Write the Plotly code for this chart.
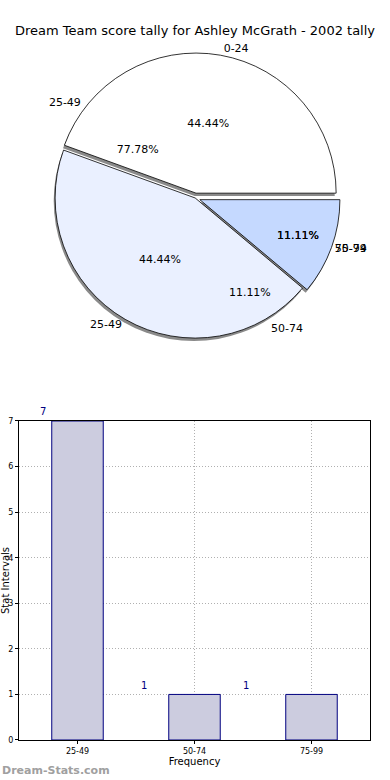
import plotly.graph_objects as go

title = "Dream Team score tally for Ashley McGrath - 2002 tally"
# pie layer drawn on top (fills)
pie_top_labels = ["0-24", "25-49", "50-74"]
pie_top_values = [4, 4, 1]
pie_top_colors = ["#ffffff", "#eaf0ff", "#c5d9ff"]
# pie layer underneath (only its texts show)
pie_under_labels = ["25-49", "50-74", "75-99"]
pie_under_values = [7, 1, 1]

bar_categories = ["25-49", "50-74", "75-99"]
bar_values = [7, 1, 1]
bar_label_shift = [-35, -51, -66]

FONT = "DejaVu Sans"
pull_top = [0.035, 0, 0.035]
pull_even = [0.035, 0.035, 0.035]
pie_dom_y = [0.5365, 0.9284]
pie_dom_x = [0.004, 1.0]
transp = ["rgba(0,0,0,0)"] * 3


def rev(a):
    # matplotlib draws counterclockwise from 3 o'clock; plotly clockwise with reversed order is equivalent
    return list(a)[::-1]


common = dict(sort=False, direction="clockwise", rotation=90, hoverinfo="skip", showlegend=False)

fig = go.Figure()

# shadow
fig.add_trace(go.Pie(
    labels=rev(pie_top_labels), values=rev(pie_top_values), pull=rev(pull_top), textinfo="none",
    marker=dict(colors=["#8a8a8a"] * 3, line=dict(width=0)),
    domain=dict(x=[0.0, 0.996], y=[pie_dom_y[0] - 0.004, pie_dom_y[1] - 0.004]), **common,
))
# top fills
fig.add_trace(go.Pie(
    labels=rev(pie_top_labels), values=rev(pie_top_values), pull=rev(pull_top), textinfo="none",
    marker=dict(colors=rev(pie_top_colors), line=dict(color="black", width=0.8)),
    domain=dict(x=pie_dom_x, y=pie_dom_y), **common,
))
# under-pie texts
fig.add_trace(go.Pie(
    labels=rev(pie_under_labels), values=rev(pie_under_values), pull=pull_even,
    texttemplate="%{percent:.2%}", textposition="inside", insidetextorientation="horizontal",
    textfont=dict(family=FONT, size=11, color="black"),
    marker=dict(colors=transp, line=dict(width=0)),
    domain=dict(x=pie_dom_x, y=pie_dom_y), **common,
))
fig.add_trace(go.Pie(
    labels=rev(pie_under_labels), values=rev(pie_under_values), pull=pull_even,
    texttemplate="%{label}", textposition="outside",
    textfont=dict(family=FONT, size=11, color="black"),
    marker=dict(colors=transp, line=dict(width=0)),
    domain=dict(x=pie_dom_x, y=pie_dom_y), **common,
))
# top-pie texts
fig.add_trace(go.Pie(
    labels=rev(pie_top_labels), values=rev(pie_top_values), pull=rev(pull_top),
    texttemplate="%{percent:.2%}", textposition="inside", insidetextorientation="horizontal",
    textfont=dict(family=FONT, size=11, color="black"),
    marker=dict(colors=transp, line=dict(width=0)),
    domain=dict(x=pie_dom_x, y=pie_dom_y), **common,
))
fig.add_trace(go.Pie(
    labels=rev(pie_top_labels), values=rev(pie_top_values), pull=rev(pull_top),
    texttemplate="%{label}", textposition="outside",
    textfont=dict(family=FONT, size=11, color="black"),
    marker=dict(colors=transp, line=dict(width=0)),
    domain=dict(x=pie_dom_x, y=pie_dom_y), **common,
))

# bar chart
fig.add_trace(go.Bar(
    x=bar_categories, y=bar_values, width=0.44, showlegend=False, hoverinfo="skip",
    marker=dict(color="#ccccdf", line=dict(color="#000080", width=1)),
))
for c, v, s in zip(bar_categories, bar_values, bar_label_shift):
    fig.add_annotation(x=c, y=v, xref="x", yref="y", text=str(v), showarrow=False,
                       xshift=s, yshift=9, font=dict(family=FONT, size=10, color="#000080"))

fig.add_annotation(text="<b>Dream-Stats.com</b>", xref="paper", yref="paper",
                   x=-19 / 351, y=-30 / 740, xanchor="left", yanchor="middle", showarrow=False,
                   font=dict(family=FONT, size=11, color="#a0a0a0"))

fig.update_layout(
    width=390, height=780, autosize=False,
    margin=dict(l=19, r=20, t=0, b=40, autoexpand=False),
    paper_bgcolor="white", plot_bgcolor="white",
    font=dict(family=FONT, color="black"),
    title=dict(text=title, x=0.5, xanchor="center", y=1 - 30 / 780, yanchor="middle",
               yref="container", font=dict(family=FONT, size=13, color="black")),
    xaxis=dict(domain=[0, 1], range=[-0.5, 2.5], type="category", automargin=False,
               showline=True, mirror=True, linecolor="black", linewidth=1,
               showgrid=True, gridcolor="#b0b0b0", griddash="1px,2px", gridwidth=1,
               ticks="outside", ticklen=3, tickcolor="black", tickfont=dict(size=8),
               title=dict(text="Frequency", font=dict(size=10), standoff=3)),
    yaxis=dict(domain=[0, 0.4311], range=[0, 7], dtick=1, automargin=False,
               showline=True, mirror=True, linecolor="black", linewidth=1,
               showgrid=True, gridcolor="#b0b0b0", griddash="1px,2px", gridwidth=1,
               ticks="outside", ticklen=3, tickcolor="black", tickfont=dict(size=8),
               zeroline=False,
               title=dict(text="Stat Intervals", font=dict(size=10), standoff=0)),
)

fig.write_html("out.html", config={"displayModeBar": False},
               post_script="document.body.style.margin='0px';document.body.style.overflow='hidden';")
